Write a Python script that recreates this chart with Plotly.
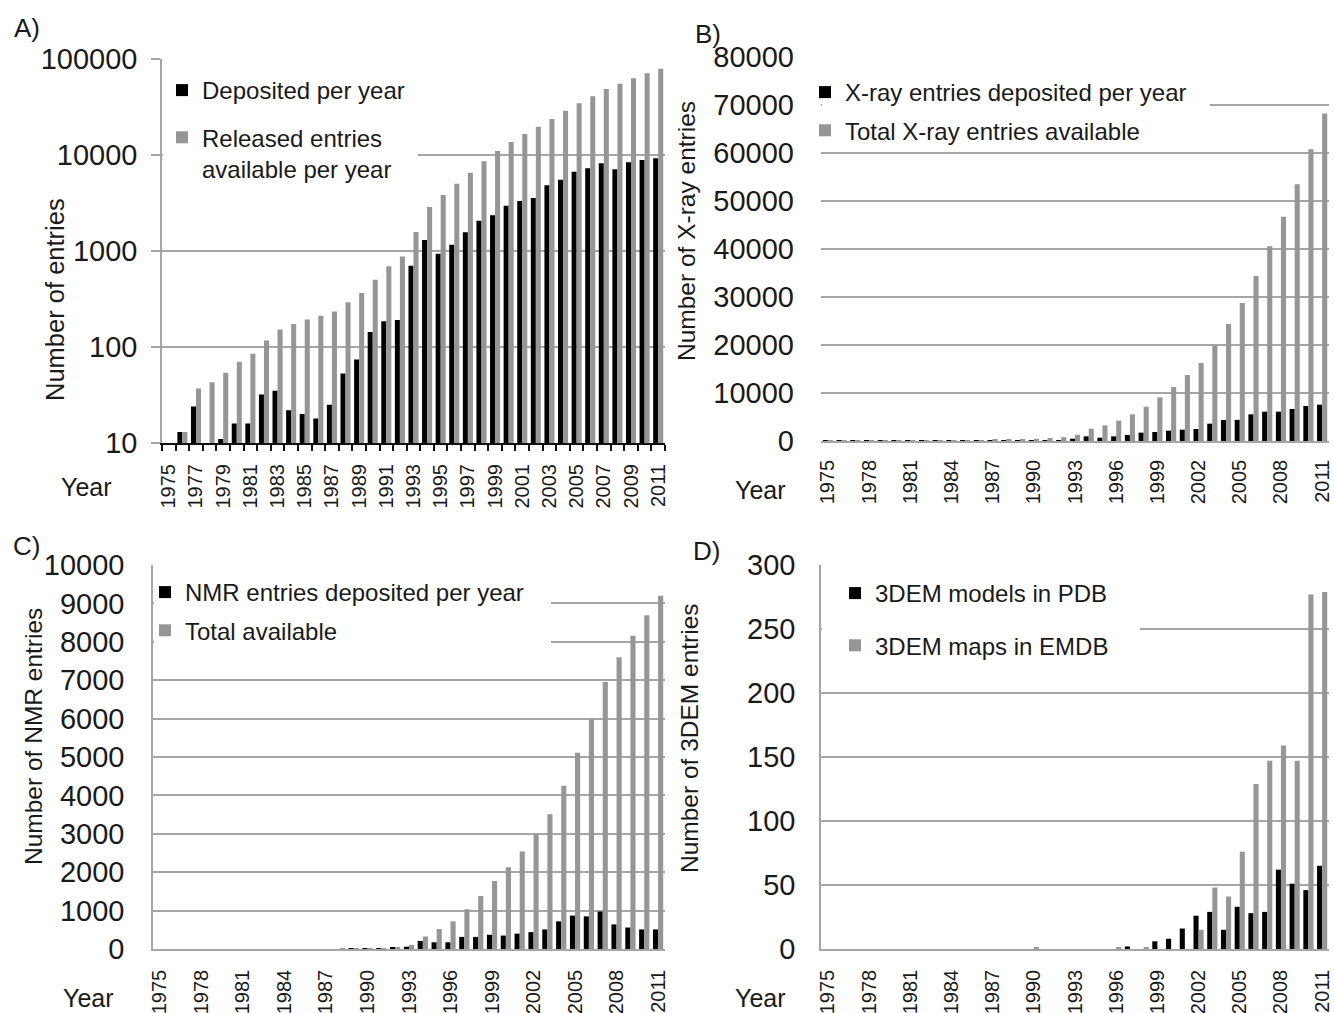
import plotly.graph_objects as go

years = list(range(1975, 2012))

# Panel A (log scale)
a_deposited = [10, 13, 24, 10, 11, 16, 16, 32, 35, 22,
               20, 18, 25, 53, 74, 143, 185, 191, 703, 1302,
               938, 1164, 1564, 2070, 2353, 2967, 3319, 3566, 4830, 5534,
               6700, 7261, 8185, 7093, 8390, 8873, 9226]
a_released = [10, 13, 37, 43, 54, 70, 85, 117, 152, 174,
              193, 212, 235, 292, 365, 502, 692, 879, 1577, 2871,
              3828, 5024, 6546, 8590, 11010, 13650, 16550, 19730, 23720, 28970,
              34530, 40830, 48710, 55360, 62920, 70970, 79250]

# Panel B (X-ray)
b_deposited = [10, 13, 24, 10, 11, 16, 16, 30, 33, 20,
               18, 16, 22, 45, 65, 120, 160, 170, 480, 970,
               690, 970, 1250, 1740, 1875, 2150, 2360, 2500, 3610, 4375,
               4400, 5560, 6110, 6110, 6670, 7290, 7570]
b_total = [10, 13, 36, 42, 52, 68, 82, 112, 146, 166,
           184, 200, 220, 270, 335, 455, 620, 790, 1300, 2570,
           3260, 4240, 5560, 7150, 9100, 11250, 13750, 16250, 19900, 24400,
           28750, 34400, 40550, 46700, 53500, 60800, 68250]

# Panel C (NMR)
c_deposited = [0, 0, 0, 0, 0, 0, 0, 0, 0, 0,
               0, 0, 0, 0, 2, 5, 10, 35, 60, 210,
               175, 175, 315, 315, 370, 350, 400, 440, 510, 720,
               870, 850, 975, 640, 560, 510, 510]
c_total = [0, 0, 0, 0, 0, 0, 0, 0, 0, 0,
           0, 0, 0, 2, 5, 15, 25, 40, 105, 325,
           520, 720, 1035, 1380, 1770, 2130, 2540, 2990, 3510, 4250,
           5110, 5980, 6950, 7600, 8160, 8690, 9200]

# Panel D (3DEM)
d_models = [0, 0, 0, 0, 0, 0, 0, 0, 0, 0,
            0, 0, 0, 0, 0, 0, 0, 0, 0, 0,
            0, 0, 2, 0, 6, 8, 16, 26, 29, 15,
            33, 28, 29, 62, 51, 46, 65]
d_maps = [0, 0, 0, 0, 0, 0, 0, 0, 0, 0,
          0, 0, 0, 0, 0, 1, 0, 0, 0, 0,
          0, 1, 0, 1, 0, 0, 0, 15, 48, 41,
          76, 129, 147, 159, 147, 277, 279]

a_ticks = [10, 100, 1000, 10000, 100000]
a_ticktext = ["10", "100", "1000", "10000", "100000"]

BLACK = "#000000"
GREY = "#969696"
GRID = "#a6a6a6"
FONT = "Liberation Sans, Arial, sans-serif"
TXT = "#1a1a1a"

W, H = 1334, 1013
XR = [1974.5, 2011.5]


def px(x):
    return x / W


def py(y):
    return 1 - y / H


fig = go.Figure()

panels = [
    ("x", "y", "legend", a_deposited, a_released,
     "Deposited per year", "Released entries<br>available per year"),
    ("x2", "y2", "legend2", b_deposited, b_total,
     "X-ray entries deposited per year", "Total X-ray entries available"),
    ("x3", "y3", "legend3", c_deposited, c_total,
     "NMR entries deposited per year", "Total available"),
    ("x4", "y4", "legend4", d_models, d_maps,
     "3DEM models in PDB", "3DEM maps in EMDB"),
]

for i, (xa, ya, lg, s1, s2, n1, n2) in enumerate(panels):
    fig.add_trace(go.Bar(x=years, y=s1, name=n1, marker_color=BLACK,
                         marker_line_width=0, xaxis=xa, yaxis=ya, legend=lg,
                         legendgroup=f"g{i}a", offsetgroup="1"))
    fig.add_trace(go.Bar(x=years, y=s2, name=n2, marker_color=GREY,
                         marker_line_width=0, xaxis=xa, yaxis=ya, legend=lg,
                         legendgroup=f"g{i}b", offsetgroup="2"))

common_x = dict(range=XR, tickmode="linear", tick0=1975,
                tickangle=-90, showgrid=False, zeroline=False, automargin=False,
                ticklabeloverflow="allow",
                tickfont=dict(family=FONT, size=20, color=TXT),
                ticks="", fixedrange=True)
common_y = dict(showgrid=True, gridcolor=GRID, gridwidth=1.5, zeroline=False,
                automargin=False, tickfont=dict(family=FONT, size=29, color=TXT),
                fixedrange=True)

# plot-area boxes in pixels: (left, right, top, bottom)
boxes = {
    "A": (162, 665, 59, 443),
    "B": (821, 1329, 57, 441),
    "C": (153, 665, 565, 949),
    "D": (821, 1329, 565, 949),
}


def xdom(k):
    L, R, T, B = boxes[k]
    return [px(L), px(R)]


def ydom(k):
    L, R, T, B = boxes[k]
    return [py(B), py(T)]


fig.update_layout(
    xaxis=dict(domain=xdom("A"), anchor="y", dtick=2, showline=True,
               linecolor="#111111", linewidth=2, ticklabelstandoff=11,
               minor=dict(tick0=1974.5, dtick=1, ticks="outside", ticklen=6,
                          tickcolor="#111111", tickwidth=1.5),
               **common_x),
    xaxis2=dict(domain=xdom("B"), anchor="y2", dtick=3, showline=True,
                linecolor=GRID, linewidth=1.5, ticklabelstandoff=9, **common_x),
    xaxis3=dict(domain=xdom("C"), anchor="y3", dtick=3, showline=True,
                linecolor=GRID, linewidth=1.5, ticklabelstandoff=11, **common_x),
    xaxis4=dict(domain=xdom("D"), anchor="y4", dtick=3, showline=True,
                linecolor=GRID, linewidth=1.5, ticklabelstandoff=11, **common_x),
    yaxis=dict(domain=ydom("A"), anchor="x", type="log", range=[1, 5],
               tickmode="array", tickvals=a_ticks, ticktext=a_ticktext,
               showline=True, linecolor=GRID, linewidth=1.5,
               ticks="outside", ticklen=9, tickcolor=GRID, tickwidth=1.5,
               ticklabelstandoff=8, **common_y),
    yaxis2=dict(domain=ydom("B"), anchor="x2", range=[0, 80000], dtick=10000,
                tickformat="d", showline=False, ticklabelstandoff=26, **common_y),
    yaxis3=dict(domain=ydom("C"), anchor="x3", range=[0, 10000], dtick=1000,
                tickformat="d", showline=True, linecolor=GRID, linewidth=1.5,
                ticklabelstandoff=21, **common_y),
    yaxis4=dict(domain=ydom("D"), anchor="x4", range=[0, 300], dtick=50,
                tickformat="d", showline=True, linecolor=GRID, linewidth=1.5,
                ticklabelstandoff=18, **common_y),
    barmode="group", bargap=0.26, bargroupgap=0.0,
    width=W, height=H, margin=dict(l=0, r=0, t=0, b=0, autoexpand=False),
    paper_bgcolor="white", plot_bgcolor="white",
    font=dict(family=FONT, color=TXT),
    showlegend=True,
)

leg_common = dict(bgcolor="rgba(0,0,0,0)", borderwidth=0, xanchor="left",
                  yanchor="top", font=dict(family=FONT, size=24, color=TXT),
                  valign="top", traceorder="grouped",
                  itemclick=False, itemdoubleclick=False)

fig.update_layout(
    legend=dict(x=px(162), y=py(68), tracegroupgap=13, **leg_common),
    legend2=dict(x=px(805), y=py(70), tracegroupgap=4, **leg_common),
    legend3=dict(x=px(145), y=py(570), tracegroupgap=4, **leg_common),
    legend4=dict(x=px(835), y=py(571), tracegroupgap=18, **leg_common),
)

# white boxes behind the legends hide the gridlines (between grid and bars)
yranges = {"A": (1, 5, True), "B": (0, 80000, False),
           "C": (0, 10000, False), "D": (0, 300, False)}


def to_x(k, p):
    L, R, T, B = boxes[k]
    return XR[0] + (p - L) / (R - L) * (XR[1] - XR[0])


def to_y(k, p):
    L, R, T, B = boxes[k]
    lo, hi, islog = yranges[k]
    v = lo + (B - p) / (B - T) * (hi - lo)
    return 10 ** v if islog else v


shapes = []
for key, xr, yr, (x0, x1, y0, y1) in [
        ("A", "x", "y", (163, 418, 62, 190)),
        ("B", "x2", "y2", (822, 1210, 60, 149)),
        ("C", "x3", "y3", (154, 551, 568, 662)),
        ("D", "x4", "y4", (822, 1140, 568, 682))]:
    shapes.append(dict(type="rect", xref=xr, yref=yr,
                       x0=to_x(key, x0), x1=to_x(key, x1),
                       y0=to_y(key, y1), y1=to_y(key, y0),
                       fillcolor="white", line_width=0, layer="between"))
fig.update_layout(shapes=shapes)

annotations = []
for txt, x, y in [("A)", 27, 28), ("B)", 708, 34), ("C)", 26, 546), ("D)", 706, 551)]:
    annotations.append(dict(text=txt, x=px(x), y=py(y), xref="paper", yref="paper",
                            showarrow=False, xanchor="center", yanchor="middle",
                            font=dict(family=FONT, size=26, color=TXT)))
for x, y in [(86, 487), (760, 490), (88, 998), (760, 998)]:
    annotations.append(dict(text="Year", x=px(x), y=py(y), xref="paper", yref="paper",
                            showarrow=False, xanchor="center", yanchor="middle",
                            font=dict(family=FONT, size=25, color=TXT)))
for txt, x, y, s in [("Number of entries", 55, 300, 25.5),
                     ("Number of X-ray entries", 686, 231, 24.5),
                     ("Number of NMR entries", 33, 737, 24.5),
                     ("Number of 3DEM entries", 689, 738, 24.5)]:
    annotations.append(dict(text=txt, x=px(x), y=py(y), xref="paper", yref="paper",
                            showarrow=False, xanchor="center", yanchor="middle",
                            textangle=-90, font=dict(family=FONT, size=s, color=TXT)))
fig.update_layout(annotations=annotations)

fig.write_html("out.html")
